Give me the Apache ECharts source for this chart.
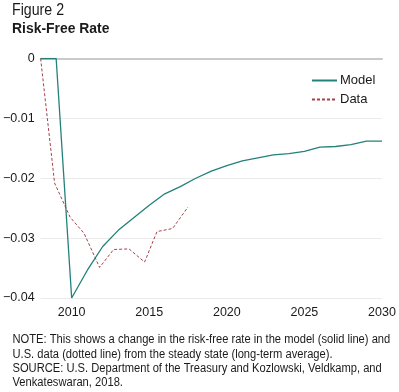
<!DOCTYPE html>
<html>
<head>
<meta charset="utf-8">
<script src="https://cdn.jsdelivr.net/npm/echarts@6/dist/echarts.min.js"></script>
<style>html,body{margin:0;padding:0;background:#fff;}#c{width:399px;height:392px;}</style>
</head>
<body>
<div id="c"></div>
<script>
// Model (solid line): year, value
const modelYears = [2008, 2009, 2010, 2011, 2012, 2013, 2014, 2015, 2016, 2017, 2018, 2019, 2020, 2021, 2022, 2023, 2024, 2025, 2026, 2027, 2028, 2029, 2030];
const modelValues = [0, 0, -0.0400, -0.0354, -0.0314, -0.0287, -0.0266, -0.0245, -0.0226, -0.0214, -0.0200, -0.0188, -0.0179, -0.0171, -0.0166, -0.0161, -0.0159, -0.0155, -0.0148, -0.0147, -0.0144, -0.0138, -0.0138];
// Data (dashed line)
const dataYears = [2008, 2008.9, 2009.9, 2010.8, 2011.8, 2012.7, 2013.7, 2014.7, 2015.5, 2016.5, 2017.5];
const dataValues = [0, -0.0208, -0.0265, -0.0292, -0.0349, -0.0319, -0.0318, -0.0340, -0.0289, -0.0284, -0.0248];
const xTickLabels = [2010, 2015, 2020, 2025, 2030];
const yTickLabels = [0, -0.01, -0.02, -0.03, -0.04];

const titleText = 'Figure 2';
const subtitleText = 'Risk-Free Rate';
const noteLines = [
  'NOTE: This shows a change in the risk-free rate in the model (solid line) and',
  'U.S. data (dotted line) from the steady state (long-term average).',
  'SOURCE: U.S. Department of the Treasury and Kozlowski, Veldkamp, and',
  'Venkateswaran, 2018.'
];

const FONT = '"Liberation Sans", Arial, sans-serif';
const chart = echarts.init(document.getElementById('c'), null, {renderer: 'canvas'});

const zip = (xs, ys) => xs.map((x, i) => [x, ys[i]]);

chart.setOption({
  animation: false,
  backgroundColor: '#fff',
  textStyle: {fontFamily: FONT},
  grid: {left: 40, right: 17, top: 58.5, bottom: 94, containLabel: false},
  xAxis: {
    type: 'value', min: 2008, max: 2030, interval: 1,
    axisLine: {show: true, lineStyle: {color: '#c9c9c9', width: 2}},
    axisTick: {show: false},
    splitLine: {show: false},
    axisLabel: {
      color: '#1a1a1a', fontSize: 12.5, fontFamily: FONT, margin: 8,
      showMinLabel: true, showMaxLabel: true,
      formatter: v => xTickLabels.indexOf(Math.round(v)) >= 0 && Math.abs(v - Math.round(v)) < 1e-6 ? String(Math.round(v)) : ''
    }
  },
  yAxis: {
    type: 'value', min: -0.04, max: 0, interval: 0.01,
    axisLine: {show: false},
    axisTick: {show: false},
    splitLine: {show: true, lineStyle: {color: '#ebebeb', width: 1}},
    axisLabel: {
      color: '#1a1a1a', fontSize: 12.5, fontFamily: FONT, margin: 6,
      formatter: v => {
        let best = yTickLabels.reduce((a, b) => Math.abs(b - v) < Math.abs(a - v) ? b : a);
        return best === 0 ? '0' : '\u2212' + String(Math.abs(best));
      }
    }
  },
  legend: {
    orient: 'vertical', left: 306, top: 69,
    itemWidth: 25, itemHeight: 14, itemGap: 6,
    itemStyle: {opacity: 0},
    textStyle: {color: '#1a1a1a', fontSize: 13, fontFamily: FONT, padding: [0, 0, 0, -2]},
    data: ['Model', 'Data']
  },
  series: [
    {
      name: 'Model', type: 'line', data: zip(modelYears, modelValues),
      symbol: 'none', lineStyle: {color: '#23807a', width: 1.3}, itemStyle: {color: '#23807a'}
    },
    {
      name: 'Data', type: 'line', data: zip(dataYears, dataValues),
      symbol: 'none', lineStyle: {color: '#a6404c', width: 1, type: [3, 2]}, itemStyle: {color: '#a6404c'}
    }
  ],
  graphic: [
    {type: 'text', x: 12, y: 2, scaleX: 0.86, style: {text: titleText, fontSize: 16.5, fontFamily: FONT, fill: '#1a1a1a'}},
    {type: 'text', x: 12, y: 21, scaleX: 0.96, style: {text: subtitleText, fontSize: 14.5, fontWeight: 'bold', fontFamily: FONT, fill: '#1a1a1a'}}
  ].concat(noteLines.map((t, i) => ({
    type: 'text', x: 12.5, y: 334 + i * 14.3, scaleX: 0.93,
    style: {text: t, fontSize: 12, fontFamily: FONT, fill: '#1a1a1a'}
  })))
});
</script>
</body>
</html>
